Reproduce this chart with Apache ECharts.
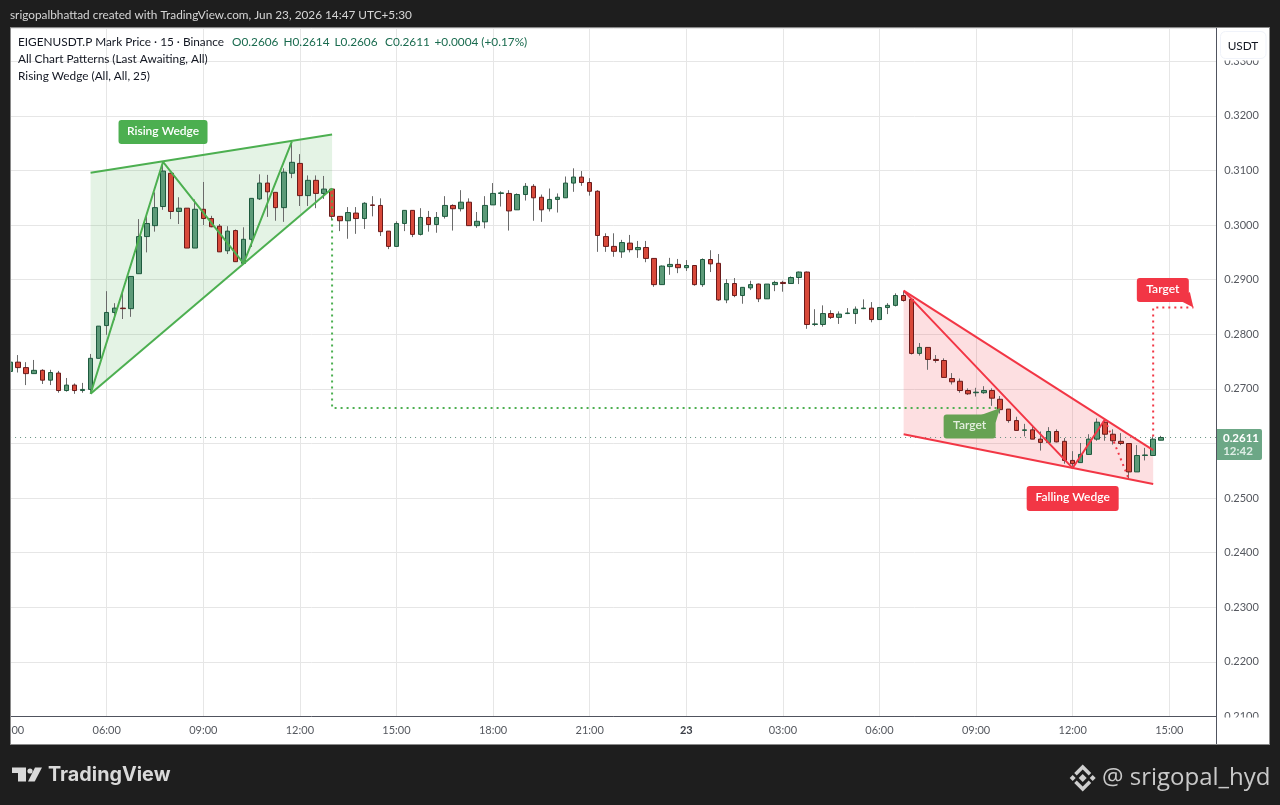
<!DOCTYPE html>
<html><head><meta charset="utf-8">
<style>html,body{margin:0;padding:0;background:#1e1e1e;overflow:hidden}#c{width:1280px;height:805px}</style>
<script src="https://cdn.jsdelivr.net/npm/echarts@6/dist/echarts.min.js"></script>
</head><body><div id="c"></div>
<script>
const opens=[.2732,.2749,.2739,.2728,.2734,.2716,.2729,.2697,.2707,.2697,
.2699,.2756,.2816,.2840,.2848,.2847,.2911,.2979,.2999,.3034,
.3095,.3025,.3031,.2958,.3029,.3012,.2998,.2953,.2990,.2930,
.2974,.3048,.3077,.3060,.3032,.3095,.3113,.3054,.3082,.3058,
.3066,.3016,.3008,.3022,.3012,.3037,.3036,.2989,.2961,.3003,
.3027,.2983,.3014,.3001,.3016,.3036,.3030,.3042,.2999,.3006,
.3037,.3058,.3058,.3028,.3056,.3071,.3051,.3030,.3047,.3050,
.3077,.3088,.3078,.3062,.2979,.2961,.2951,.2967,.2955,.2959,
.2939,.2891,.2924,.2928,.2922,.2926,.2891,.2937,.2930,.2863,
.2893,.2871,.2885,.2892,.2865,.2891,.2895,.2893,.2904,.2914,
.2818,.2818,.2838,.2831,.2838,.2838,.2847,.2848,.2827,.2849,
.2853,.2871,.2864,.2765,.2776,.2754,.2752,.2719,.2714,.2697,
.2693,.2693,.2697,.2681,.2663,.2642,.2624,.2625,.2608,.2602,
.2622,.2604,.2569,.2565,.2580,.2608,.2639,.2617,.2604,.2600,
.2548,.2578,.2578,.2606];
const closes=[.2749,.2739,.2728,.2734,.2716,.2730,.2697,.2707,.2697,.2699,
.2756,.2815,.2840,.2848,.2847,.2906,.2979,.3003,.3032,.3099,
.3025,.3031,.2958,.3029,.3012,.2997,.2951,.2989,.2933,.2974,
.3049,.3077,.3061,.3032,.3097,.3115,.3054,.3082,.3058,.3066,
.3016,.3008,.3023,.3012,.3040,.3036,.2988,.2961,.3003,.3027,
.2983,.3014,.3001,.3014,.3036,.3030,.3042,.2999,.3007,.3036,
.3058,.3059,.3026,.3056,.3071,.3050,.3028,.3047,.3051,.3077,
.3088,.3078,.3062,.2981,.2961,.2952,.2968,.2955,.2959,.2939,
.2891,.2925,.2928,.2922,.2926,.2891,.2937,.2929,.2863,.2893,
.2871,.2886,.2891,.2865,.2892,.2895,.2893,.2904,.2914,.2818,
.2819,.2838,.2831,.2837,.2839,.2846,.2848,.2827,.2849,.2853,
.2871,.2862,.2765,.2776,.2754,.2752,.2721,.2713,.2697,.2691,
.2694,.2697,.2683,.2662,.2642,.2624,.2625,.2608,.2602,.2622,
.2603,.2569,.2563,.2580,.2608,.2639,.2617,.2605,.2600,.2548,
.2578,.2579,.2608,.2611];
const lows=[.2729,.2730,.2707,.2728,.2709,.2707,.2693,.2695,.2691,.2693,
.2691,.2756,.2799,.2826,.2828,.2832,.2911,.2950,.2988,.3028,
.3011,.3002,.2958,.2958,.3000,.2996,.2951,.2947,.2933,.2929,
.2960,.3046,.3015,.3008,.3006,.3086,.3035,.3035,.3031,.3048,
.3009,.2989,.2975,.2984,.2993,.3016,.2980,.2956,.2961,.2989,
.2978,.2981,.2988,.2986,.3012,.2990,.3025,.2999,.2995,.2994,
.3037,.3034,.2990,.3028,.3045,.3008,.3006,.3025,.3023,.3050,
.3061,.3072,.3054,.2951,.2951,.2942,.2940,.2950,.2940,.2932,
.2887,.2891,.2909,.2912,.2916,.2889,.2887,.2914,.2861,.2857,
.2868,.2856,.2881,.2859,.2865,.2879,.2878,.2893,.2892,.2810,
.2815,.2814,.2828,.2819,.2837,.2819,.2846,.2822,.2827,.2837,
.2851,.2860,.2763,.2761,.2735,.2748,.2721,.2708,.2693,.2689,
.2686,.2691,.2669,.2655,.2638,.2624,.2613,.2608,.2587,.2602,
.2602,.2563,.2556,.2565,.2580,.2605,.2605,.2598,.2597,.2534,
.2548,.2569,.2578,.2606];
const highs=[.2753,.2762,.2749,.2753,.2736,.2735,.2733,.2720,.2710,.2711,
.2764,.2815,.2879,.2857,.2876,.2906,.3011,.3016,.3060,.3116,
.3095,.3051,.3031,.3047,.3079,.3017,.3002,.2998,.2992,.2996,
.3049,.3093,.3092,.3060,.3104,.3153,.3130,.3091,.3091,.3090,
.3066,.3016,.3033,.3033,.3042,.3053,.3049,.2989,.3007,.3027,
.3027,.3031,.3026,.3024,.3053,.3038,.3064,.3049,.3024,.3053,
.3077,.3062,.3064,.3058,.3077,.3075,.3056,.3067,.3058,.3089,
.3104,.3099,.3086,.3064,.2985,.2985,.2973,.2982,.2971,.2971,
.2939,.2926,.2940,.2938,.2936,.2926,.2939,.2954,.2947,.2901,
.2903,.2886,.2898,.2893,.2892,.2898,.2898,.2906,.2915,.2915,
.2846,.2853,.2844,.2842,.2848,.2851,.2864,.2859,.2849,.2857,
.2875,.2879,.2864,.2784,.2776,.2762,.2756,.2729,.2719,.2701,
.2702,.2705,.2701,.2687,.2663,.2649,.2636,.2633,.2622,.2630,
.2626,.2610,.2586,.2601,.2617,.2646,.2644,.2626,.2619,.2600,
.2597,.2592,.2613,.2614];
// one tick label every 12 candles (3 hours), starting at candle 0
const timeLabels=['03:00','06:00','09:00','12:00','15:00','18:00','21:00','23','03:00','06:00','09:00','12:00','15:00'];
const lastPrice=.2611;
const risingZone=[[10,.3096],[40,.3166],[40,.3067],[10,.2691]];
const risingUpper=[[10,.3096],[40,.3166]];
const risingLower=[[10,.2691],[40,.3067]];
const risingZigzag=[[10,.2691],[19,.3116],[29,.2930],[35,.3153]];
const risingTarget=[[40,.3067],[40,.2665],[123,.2665]];
const fallingZone=[[111,.2880],[142,.2588],[142,.2526],[111,.2617]];
const fallingUpper=[[111,.2880],[142,.2588]];
const fallingLower=[[111,.2617],[142,.2526]];
const fallingZigzag=[[111,.2880],[132,.2555],[136,.2644]];
const fallingDotted=[[136,.2644],[139,.2534]];
const fallingTarget=[[142,.2613],[142,.2849],[147,.2849]];
const labelNames=['Rising Wedge','Target','Target','Falling Wedge'];
const labelAnchors=[[19,.31705],[119.2,.26311],[143.2,.28811],[132,.24993]];
const labelTips=[null,[123,.2665],[147,.2849],null];
const labelKinds=['green','greenTarget','red','red'];

const GREEN='#4caf50',RED='#f23645',FONT='Lato, "Open Sans", sans-serif';
const X_MAX=149.84;
const rows=opens.map((o,i)=>[i,o,closes[i],lows[i],highs[i]]);
const bodies=opens.map((o,i)=>[i,o,closes[i],Math.min(o,closes[i]),Math.max(o,closes[i])]);
const poly=(pts,fill,z)=>({type:'custom',z,silent:true,clip:true,data:pts,
  renderItem:(p,api)=>p.dataIndex>0?null:{type:'polygon',shape:{points:pts.map(d=>api.coord(d))},style:{fill}}});
const path=(pts,color,z,dash)=>({type:'line',z,silent:true,data:pts,symbol:'none',animation:false,
  lineStyle:{color,width:2,type:dash?[2,4]:'solid',cap:'butt'}});
const kindFill={green:'#4caf50',greenTarget:'#66a253',red:'#f23645'};
const series=[
 poly(risingZone,'rgba(76,175,80,0.15)',1),
 poly(fallingZone,'rgba(242,54,69,0.16)',1),
 {type:'line',z:1,silent:true,symbol:'none',data:[[0,lastPrice],[X_MAX,lastPrice]],lineStyle:{color:'#5f8f7c',width:1,type:[1,4]}},
 {type:'candlestick',z:2,silent:true,barWidth:1,data:rows,
  itemStyle:{color:'#6a6a6a',color0:'#6a6a6a',borderColor:'#6a6a6a',borderColor0:'#6a6a6a',borderWidth:1}},
 {type:'candlestick',z:3,silent:true,barWidth:5,data:bodies,
  itemStyle:{color:'#5c9a78',color0:'#d8493a',borderColor:'#1d5a3e',borderColor0:'#6b1a1a',borderWidth:1,borderColorDoji:'#1d5a3e'}},
 path(risingUpper,GREEN,4),path(risingLower,GREEN,4),path(risingZigzag,GREEN,4),path(risingTarget,GREEN,4,true),
 path(fallingUpper,RED,4),path(fallingLower,RED,4),path(fallingZigzag,RED,4),path(fallingDotted,RED,4,true),path(fallingTarget,RED,4,true),
 {type:'custom',z:5,silent:true,clip:false,data:labelAnchors,
  renderItem:(p,api)=>{
   const i=p.dataIndex,c=api.coord(labelAnchors[i]),name=labelNames[i],fill=kindFill[labelKinds[i]];
   const w=name==='Target'?52:(name==='Rising Wedge'?89:92),h=name==='Falling Wedge'?25:24;
   const kids=[];
   if(labelTips[i]){
    const t=api.coord(labelTips[i]);
    const bx=c[0]+w/2,by=labelKinds[i]==='red'?c[1]+h/2:c[1]-h/2;
    kids.push({type:'polygon',shape:{points:labelKinds[i]==='red'?[[bx-10,by-2],[bx+1,by-10],t]:[[bx-16,by+1],[bx,by+8],t]},style:{fill}});
   }
   kids.push({type:'rect',shape:{x:c[0]-w/2,y:c[1]-h/2,width:w,height:h,r:3},style:{fill}});
   kids.push({type:'text',style:{x:c[0],y:c[1]-1,text:name,fill:labelKinds[i]==='greenTarget'?'#e4efdf':'#fff',font:'600 12px '+FONT,align:'center',verticalAlign:'middle'}});
   return {type:'group',children:kids};
  }}
];
const T=(text,x,y,fill,font,extra)=>({type:'text',silent:true,z:200,style:Object.assign({text,x,y,fill,font,verticalAlign:'middle'},extra||{})});
const R=(x,y,w,h,fill,z,extra,stroke)=>({type:'rect',silent:true,z,shape:Object.assign({x,y,width:w,height:h},extra||{}),style:stroke?{fill,stroke,lineWidth:1}:{fill}});
const P=(pts,fill)=>({type:'polygon',silent:true,z:200,shape:{points:pts},style:{fill}});
const LF='11.8px '+FONT, DG='#131722', UPG='#1a6b4f';
const icx=1082.7,icy=778;
const dia=(cx,cy,r)=>P([[cx,cy-r],[cx+r,cy],[cx,cy+r],[cx-r,cy]],'#cfcfcf');
const graphics=[
 R(10,27,1260,717.5,'#fff',-10),
 R(0,0,10,805,'#1e1e1e',100),
 R(1217,717.5,52.5,26.5,'#fff',100),
 R(1217,28,52,32.5,'#fff',100),
 R(10,27,1260,1,'#8a8a8a',101),R(10,27,1,717,'#8a8a8a',101),R(1269,27,1,717,'#8a8a8a',101),R(10,744,1260,1,'#8a8a8a',101),
 R(1216,28,1,716,'#50535e',101),
 R(1220.5,31.5,45.5,27,'#fff',150,{r:5},'#f0f3fa'),
 T('USDT',1243,46,DG,'11.8px '+FONT,{align:'center'}),
 R(1217,429,45,31,'#6ca786',150,{r:[0,2,2,0]}),
 T(lastPrice.toFixed(4),1241,438,'#fff','bold 11.5px '+FONT,{align:'center'}),
 T('12:42',1238,451,'#dfeee6','bold 11.5px '+FONT,{align:'center'}),
 T('srigopalbhattad created with TradingView.com, Jun 23, 2026 14:47 UTC+5:30',10,15,'#d6d6d6',LF),
 T('EIGENUSDT.P Mark Price · 15 · Binance',18,42,DG,LF),
 T('O0.2606',232,42,UPG,LF),T('H0.2614',283.5,42,UPG,LF),T('L0.2606',334.5,42,UPG,LF),T('C0.2611',385,42,UPG,LF),T('+0.0004 (+0.17%)',434.5,42,UPG,LF),
 T('All Chart Patterns (Last Awaiting, All)',18,59,DG,LF),
 T('Rising Wedge (All, All, 25)',18,76,DG,LF),
 P([[12,767.5],[26,767.5],[26,781.5],[18,781.5],[18,773],[12,773]],'#d9d9d9'),
 {type:'circle',silent:true,z:200,shape:{cx:30,cy:771,r:2.6},style:{fill:'#d9d9d9'}},
 P([[35,767.5],[42,767.5],[34.7,781.5],[28,781.5]],'#d9d9d9'),
 T('TradingView',48,775,'#d9d9d9','bold 19.8px Inter, sans-serif'),
 dia(icx,icy,4),dia(icx-10,icy,3),dia(icx+10,icy,3),
 P([[icx,icy-13.5],[icx+8.5,icy-5],[icx+6,icy-2.5],[icx,icy-8.5],[icx-6,icy-2.5],[icx-8.5,icy-5]],'#cfcfcf'),
 P([[icx,icy+13.5],[icx+8.5,icy+5],[icx+6,icy+2.5],[icx,icy+8.5],[icx-6,icy+2.5],[icx-8.5,icy+5]],'#cfcfcf'),
 T('@ srigopal_hyd',1102,778,'#c9c9c9','24px "Open Sans", sans-serif')
];
const chart=echarts.init(document.getElementById('c'),null,{renderer:'canvas'});
chart.setOption({
 animation:false,backgroundColor:'#1e1e1e',tooltip:{show:false},legend:{show:false},
 grid:{left:10.08,top:28,width:1206.2,height:688.5,containLabel:false,outerBoundsMode:'none'},
 xAxis:{type:'value',min:0,max:X_MAX,interval:12,containShape:false,
  axisLine:{show:true,onZero:false,lineStyle:{color:'#50535e',width:1}},axisTick:{show:false},
  splitLine:{show:true,lineStyle:{color:'#e6e6e6',width:1}},
  axisLabel:{show:true,showMinLabel:true,showMaxLabel:false,margin:8,color:'#55585f',fontFamily:FONT,fontSize:11,hideOverlap:false,
   formatter:v=>{const s=timeLabels[Math.round(v/12)];return s==='23'?'{b|23}':(s||'');},rich:{b:{fontWeight:'bold',color:'#3a3d45',fontFamily:FONT,fontSize:11}}}},
 yAxis:{type:'value',position:'right',min:.21,max:.3361,interval:.01,
  axisLine:{show:false},axisTick:{show:false},
  splitLine:{show:true,lineStyle:{color:'#e6e6e6',width:1}},
  axisLabel:{showMinLabel:true,showMaxLabel:false,margin:8,color:'#55585f',fontFamily:FONT,fontSize:11,formatter:v=>v.toFixed(4)}},
 graphic:{elements:graphics},
 series
});
</script></body></html>
